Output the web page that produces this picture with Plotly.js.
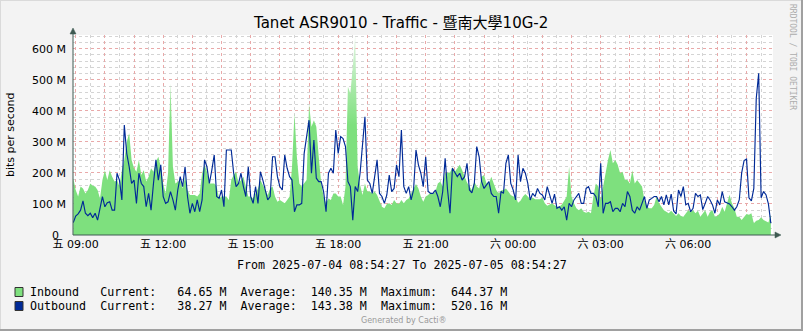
<!DOCTYPE html>
<html>
<head>
<meta charset="utf-8">
<script src="https://cdn.plot.ly/plotly-3.0.1.min.js"></script>
<style>html,body{margin:0;padding:0;background:#F3F3F3;}#chart{width:803px;height:331px;}</style>
</head>
<body>
<div id="chart"></div>
<script>
// ---- data (values in M bits per second, 5-minute samples starting 2025-07-04 08:55) ----
var startTime = '2025-07-04 08:55:00';
var stepMinutes = 5;

var inbound = [
183,145,124,156,150,134,145,166,159,156,145,118,177,209,177,209,188,172,177,156,
209,242,300,328,242,215,204,242,193,209,172,188,215,204,236,252,220,166,134,199,
489,220,166,172,177,150,188,145,129,129,129,124,134,199,226,204,166,166,166,156,
118,124,124,124,113,177,193,204,166,177,188,156,124,124,118,134,150,177,161,145,
129,150,156,124,107,113,107,102,113,124,220,392,252,166,156,166,
177,424,349,370,349,252,166,124,102,118,113,134,134,124,124,97,156,478,456,542,
644,220,161,129,166,140,140,134,140,129,107,91,86,100,102,97,113,102,100,113,
102,113,118,134,147,164,150,124,107,124,129,137,132,140,166,172,156,199,201,201,
218,204,215,226,209,188,169,156,145,172,156,150,188,193,166,166,188,166,145,134,
143,145,150,140,129,124,124,104,110,124,132,124,115,121,115,115,
115,121,102,94,97,102,96,91,91,98,110,124,220,124,102,86,80,86,75,72,
75,70,124,166,156,113,156,204,242,274,231,242,226,199,204,177,177,166,209,166,
177,167,156,113,91,86,86,97,124,102,91,80,75,70,78,70,61,70,61,59,
70,80,75,80,70,78,59,68,80,59,75,80,59,61,70,91,75,102,130,102,
86,59,59,48,59,68,65,70,38,46,48,57,48,43,40,65
];

var outbound = [
40,61,68,80,110,70,62,70,56,70,48,86,124,91,104,107,80,80,199,177,
113,354,263,220,166,177,102,199,166,156,91,134,80,166,242,177,226,124,102,107,
140,113,80,145,188,156,220,124,70,102,75,113,75,113,242,220,166,209,258,124,
118,145,91,274,274,274,199,156,166,199,156,124,220,124,102,156,102,204,177,145,
113,124,252,252,188,156,145,258,215,188,177,75,97,97,102,263,
317,370,199,306,183,172,172,140,75,199,215,199,338,263,317,311,285,172,156,48,
156,140,199,295,381,177,166,134,188,242,134,124,102,129,193,140,150,226,188,338,
156,134,156,113,145,274,226,199,156,252,140,134,134,145,124,91,140,247,145,70,
215,199,188,199,177,188,231,145,136,166,285,252,172,150,161,172,134,124,124,70,
140,134,231,258,166,145,113,258,172,215,199,166,113,134,124,150,
134,129,113,156,129,102,132,86,91,80,91,48,102,91,113,124,134,102,102,150,
156,134,134,124,91,231,70,102,102,107,75,86,86,75,102,91,140,124,80,70,
91,80,102,124,86,113,118,124,124,107,124,97,129,97,132,78,68,145,124,156,
97,102,75,86,134,124,129,82,102,124,113,97,70,113,97,140,107,104,100,91,
80,91,113,200,240,245,120,110,150,440,521,120,140,130,100,38
];

var yTickVals = [0,100,200,300,400,500,600];
var yTickText = ['0\u00A0\u00A0','100 M','200 M','300 M','400 M','500 M','600 M'];
var xMajorLabels = {
  '2025-07-04 09:00:00':'五 09:00','2025-07-04 12:00:00':'五 12:00','2025-07-04 15:00:00':'五 15:00',
  '2025-07-04 18:00:00':'五 18:00','2025-07-04 21:00:00':'五 21:00','2025-07-05 00:00:00':'六 00:00',
  '2025-07-05 03:00:00':'六 03:00','2025-07-05 06:00:00':'六 06:00'
};
var titleText = 'Tanet ASR9010 - Traffic - 暨南大學10G-2';
var rangeText = 'From 2025-07-04 08:54:27 To 2025-07-05 08:54:27';
var inLegend  = 'Inbound   Current:   64.65 M  Average:  140.35 M  Maximum:  644.37 M';
var outLegend = 'Outbound  Current:   38.27 M  Average:  143.38 M  Maximum:  520.16 M';

// ---- helpers ----
function pad(n){return (n<10?'0':'')+n;}
function fmt(d){return d.getFullYear()+'-'+pad(d.getMonth()+1)+'-'+pad(d.getDate())+' '+pad(d.getHours())+':'+pad(d.getMinutes())+':'+pad(d.getSeconds());}
var t0 = new Date(startTime.replace(' ','T'));
var times = inbound.map(function(_,i){return fmt(new Date(t0.getTime()+i*stepMinutes*60000));});

var tickVals=[], tickText=[];
var h0 = new Date('2025-07-04T09:00:00');
for (var k=0;k<24;k++){var s=fmt(new Date(h0.getTime()+k*3600000)); tickVals.push(s); tickText.push(xMajorLabels[s]||'');}

// pixel -> paper
var L=73, W=700, B=235, H=200;
function xp(px){return (px-L)/W;}
function yp(py){return (B-py)/H;}

var GREEN='#7EE07E', BLUE='#002A97', AXIS='#3F5A52';
var MAJ='#E9A9A9', MIN='#D4D4D4';
var sans='DejaVu Sans, Noto Sans CJK TC, sans-serif';
var mono='DejaVu Sans Mono, monospace';
function nb(s){return s.replace(/ /g,'\u00A0');}

var traces = [
  {x:times, y:inbound, type:'scatter', mode:'lines', fill:'tozeroy', fillcolor:GREEN,
   fillgradient:{type:'vertical', start:0, stop:644.37, colorscale:[[0,GREEN],[0.55,GREEN],[1,'#E4F6E4']]},
   line:{width:0, color:GREEN}, hoverinfo:'skip'},
  {x:times, y:outbound, type:'scatter', mode:'lines',
   line:{width:1.15, color:BLUE}, hoverinfo:'skip'}
];

var layout = {
  width:803, height:331,
  margin:{l:L, r:803-L-W, t:B-H, b:331-B, pad:0},
  paper_bgcolor:'#F3F3F3', plot_bgcolor:'#FFFFFF',
  showlegend:false,
  xaxis:{type:'date', range:['2025-07-04 08:54:27','2025-07-05 08:54:27'],
    tickmode:'array', tickvals:tickVals, ticktext:tickText,
    showgrid:true, gridcolor:MAJ, griddash:'dot', gridwidth:1,
    minor:{tickmode:'linear', tick0:'2025-07-04 08:30:00', dtick:1800000, showgrid:true, gridcolor:MIN, griddash:'dot', gridwidth:1, ticks:''},
    ticks:'', showline:false, zeroline:false, ticklabelstandoff:1,
    tickfont:{family:sans, size:11, color:'#000'}, fixedrange:true},
  yaxis:{range:[0,644.37], tickmode:'array', tickvals:yTickVals, ticktext:yTickText,
    showgrid:true, gridcolor:MAJ, griddash:'dot', gridwidth:1,
    minor:{tickmode:'linear', tick0:0, dtick:20, showgrid:true, gridcolor:MIN, griddash:'dot', gridwidth:1, ticks:''},
    ticks:'', showline:false, zeroline:false, ticklabelstandoff:6,
    tickfont:{family:sans, size:11, color:'#000'}, fixedrange:true},
  shapes:[
    // image frame
    {type:'line', xref:'paper', yref:'paper', x0:xp(0), x1:xp(803), y0:yp(0.5), y1:yp(0.5), line:{color:'#DADADA', width:1}},
    {type:'line', xref:'paper', yref:'paper', x0:xp(0.5), x1:xp(0.5), y0:yp(0), y1:yp(331), line:{color:'#DADADA', width:1}},
    {type:'line', xref:'paper', yref:'paper', x0:xp(802), x1:xp(802), y0:yp(0), y1:yp(331), line:{color:'#A0A0A0', width:2}},
    {type:'line', xref:'paper', yref:'paper', x0:xp(0), x1:xp(803), y0:yp(330), y1:yp(330), line:{color:'#A0A0A0', width:2}},
    // axes
    {type:'line', xref:'paper', yref:'paper', x0:0, x1:0, y0:0, y1:yp(31), line:{color:AXIS, width:1}},
    {type:'line', xref:'paper', yref:'paper', x0:0, x1:xp(777), y0:0, y1:0, line:{color:AXIS, width:1}},
    {type:'path', xref:'paper', yref:'paper', path:'M '+xp(70)+' '+yp(34)+' L '+xp(76)+' '+yp(34)+' L '+xp(73)+' '+yp(28)+' Z', fillcolor:AXIS, line:{color:AXIS, width:0.5}},
    {type:'path', xref:'paper', yref:'paper', path:'M '+xp(775)+' '+yp(232)+' L '+xp(775)+' '+yp(238)+' L '+xp(781)+' '+yp(235)+' Z', fillcolor:AXIS, line:{color:AXIS, width:0.5}},
    // legend swatches
    {type:'rect', xref:'paper', yref:'paper', x0:xp(15), x1:xp(23), y0:yp(287.5), y1:yp(296.5), fillcolor:GREEN, line:{color:'#333', width:1}},
    {type:'rect', xref:'paper', yref:'paper', x0:xp(15), x1:xp(23), y0:yp(301.5), y1:yp(310.5), fillcolor:BLUE, line:{color:'#333', width:1}}
  ],
  annotations:[
    {text:titleText, xref:'paper', yref:'paper', x:xp(400.5), y:yp(23.5), showarrow:false, xanchor:'center', yanchor:'middle', font:{family:sans, size:15, color:'#000'}},
    {text:'bits per second', xref:'paper', yref:'paper', x:xp(10), y:yp(135), textangle:-90, showarrow:false, xanchor:'center', yanchor:'middle', font:{family:sans, size:11, color:'#000'}},
    {text:nb(rangeText), xref:'paper', yref:'paper', x:xp(402), y:yp(264.5), showarrow:false, xanchor:'center', yanchor:'middle', font:{family:mono, size:11.66, color:'#000'}},
    {text:nb(inLegend), xref:'paper', yref:'paper', x:xp(28), y:yp(292), showarrow:false, xanchor:'left', yanchor:'middle', font:{family:mono, size:11.66, color:'#000'}},
    {text:nb(outLegend), xref:'paper', yref:'paper', x:xp(28), y:yp(306), showarrow:false, xanchor:'left', yanchor:'middle', font:{family:mono, size:11.66, color:'#000'}},
    {text:'Generated by Cacti®', xref:'paper', yref:'paper', x:xp(404), y:yp(320.5), showarrow:false, xanchor:'center', yanchor:'middle', font:{family:sans, size:8, color:'#9A9A9A'}},
    {text:'RRDTOOL / TOBI OETIKER', xref:'paper', yref:'paper', x:xp(793), y:yp(57), textangle:90, showarrow:false, xanchor:'center', yanchor:'middle', font:{family:mono, size:8, color:'#ADADAD'}}
  ]
};

Plotly.newPlot('chart', traces, layout, {staticPlot:true, displayModeBar:false});
</script>
</body>
</html>
